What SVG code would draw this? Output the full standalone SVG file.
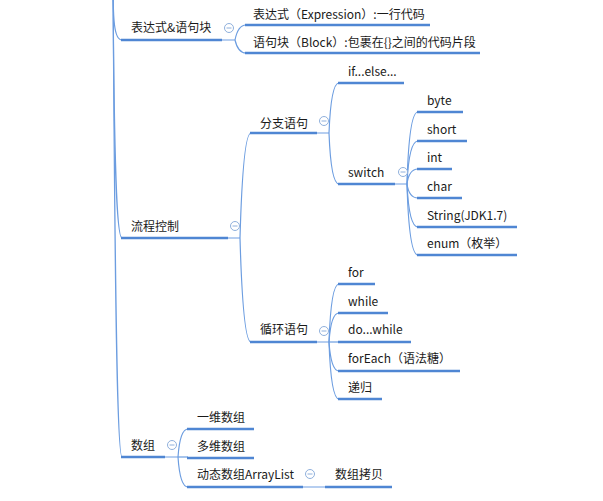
<svg xmlns="http://www.w3.org/2000/svg" width="603" height="501" viewBox="0 0 603 501">
<style>
text{font-family:"Microsoft YaHei","Noto Sans CJK SC","Noto Sans",sans-serif;font-size:12px;fill:#1a1a1a}
.u{stroke:#4f86d3;stroke-width:2.6;fill:none}
.c{stroke:#6c9de0;stroke-width:1.2;fill:none}
.t{stroke:#7aa6e3;stroke-width:1.1;fill:none}
.k{fill:#fff;stroke:#8fb0dc;stroke-width:1}
.m{stroke:#8fb0dc;stroke-width:1}
</style>
<rect width="603" height="501" fill="#fff"/>
<g id="connectors">
<path class="c" d="M113,-20 C113,20 114,40 122,40"/>
<path class="c" d="M113,-20 C114,150 116,238 122,238"/>
<path class="c" d="M113,-20 C115,300 117,457 122,457"/>
<path class="t" d="M222,40 H235"/>
<path class="c" d="M235,40 Q238,25 246,25"/>
<path class="c" d="M235,40 Q238,53 246,53"/>
<path class="t" d="M228,238 H240"/>
<path class="c" d="M240,238 Q243,133 251,133"/>
<path class="c" d="M240,238 Q243,342 251,342"/>
<path class="t" d="M317,133 H329"/>
<path class="c" d="M329,133 Q331,83 339,83"/>
<path class="c" d="M329,133 Q331,184 339,184"/>
<path class="t" d="M395,184 H407"/>
<path class="c" d="M407,184 Q409,112 418,112"/>
<path class="c" d="M407,184 Q409,141 418,141"/>
<path class="c" d="M407,184 Q409,169 418,169"/>
<path class="c" d="M407,184 Q409,198 418,198"/>
<path class="c" d="M407,184 Q409,227 418,227"/>
<path class="c" d="M407,184 Q409,255 418,255"/>
<path class="t" d="M317,342 H329"/>
<path class="c" d="M329,342 Q331,284 339,284"/>
<path class="c" d="M329,342 Q331,313 339,313"/>
<path class="c" d="M329,342 H339"/>
<path class="c" d="M329,342 Q331,371 339,371"/>
<path class="c" d="M329,342 Q331,399 339,399"/>
<path class="t" d="M165,457 H178"/>
<path class="c" d="M178,457 Q180,429 188,429"/>
<path class="c" d="M178,457 H188"/>
<path class="c" d="M178,457 Q180,487 188,487"/>
<path class="t" d="M303,487 H325"/>
</g>
<g id="n-expr">
<path class="u" d="M121,40 H222"/>
<text x="131" y="32">表达式&amp;语句块</text>
<circle class="k" cx="229" cy="28" r="4.5"/><path class="m" d="M226.5,28 H231.5"/>
</g>
<g id="n-expression">
<path class="u" d="M245,25 H430"/>
<text x="253" y="19">表达式（Expression）:一行代码</text>
</g>
<g id="n-block">
<path class="u" d="M245,53 H480"/>
<text x="253" y="47">语句块（Block）:包裹在{}之间的代码片段</text>
</g>
<g id="n-flow">
<path class="u" d="M121,238 H228"/>
<text x="131" y="231">流程控制</text>
<circle class="k" cx="235" cy="226" r="4.5"/><path class="m" d="M232.5,226 H237.5"/>
</g>
<g id="n-branch">
<path class="u" d="M250,133 H317"/>
<text x="260" y="128">分支语句</text>
<circle class="k" cx="324" cy="121" r="4.5"/><path class="m" d="M321.5,121 H326.5"/>
</g>
<g id="n-ifelse">
<path class="u" d="M338,83 H404"/>
<text x="348" y="76">if...else...</text>
</g>
<g id="n-switch">
<path class="u" d="M338,184 H395"/>
<text x="348" y="177">switch</text>
<circle class="k" cx="403" cy="172" r="4.5"/><path class="m" d="M400.5,172 H405.5"/>
</g>
<g id="n-byte"><path class="u" d="M417,112 H463"/><text x="427" y="105">byte</text></g>
<g id="n-short"><path class="u" d="M417,141 H467"/><text x="427" y="134">short</text></g>
<g id="n-int"><path class="u" d="M417,169 H452"/><text x="427" y="162">int</text></g>
<g id="n-char"><path class="u" d="M417,198 H462"/><text x="427" y="191">char</text></g>
<g id="n-string"><path class="u" d="M417,227 H517"/><text x="427" y="220">String(JDK1.7)</text></g>
<g id="n-enum"><path class="u" d="M417,255 H517"/><text x="427" y="248">enum（枚举）</text></g>
<g id="n-loop">
<path class="u" d="M250,342 H317"/>
<text x="260" y="334">循环语句</text>
<circle class="k" cx="324" cy="331" r="4.5"/><path class="m" d="M321.5,331 H326.5"/>
</g>
<g id="n-for"><path class="u" d="M338,284 H375"/><text x="348" y="277">for</text></g>
<g id="n-while"><path class="u" d="M338,313 H388"/><text x="348" y="306">while</text></g>
<g id="n-dowhile"><path class="u" d="M338,342 H411"/><text x="348" y="334">do...while</text></g>
<g id="n-foreach"><path class="u" d="M338,371 H460"/><text x="348" y="363">forEach（语法糖）</text></g>
<g id="n-recursion"><path class="u" d="M338,399 H382"/><text x="348" y="392">递归</text></g>
<g id="n-array">
<path class="u" d="M121,457 H165"/>
<text x="131" y="450">数组</text>
<circle class="k" cx="172" cy="445" r="4.5"/><path class="m" d="M169.5,445 H174.5"/>
</g>
<g id="n-1d"><path class="u" d="M187,429 H254"/><text x="197" y="422">一维数组</text></g>
<g id="n-nd"><path class="u" d="M187,458 H254"/><text x="197" y="451">多维数组</text></g>
<g id="n-arraylist">
<path class="u" d="M187,487 H303"/>
<text x="197" y="479">动态数组ArrayList</text>
<circle class="k" cx="310" cy="474" r="4.5"/><path class="m" d="M307.5,474 H312.5"/>
</g>
<g id="n-copy"><path class="u" d="M325,487 H392"/><text x="335" y="479">数组拷贝</text></g>
</svg>
